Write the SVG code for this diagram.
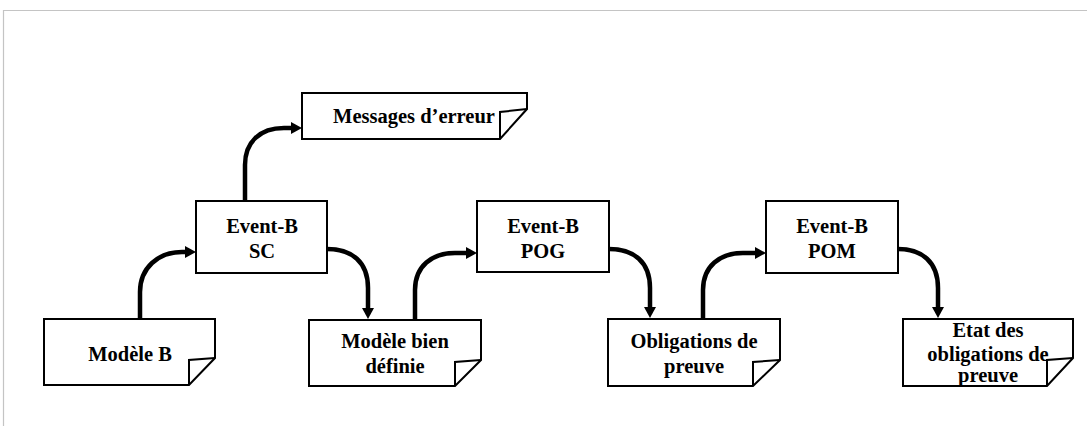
<svg xmlns="http://www.w3.org/2000/svg" width="1087" height="426" viewBox="0 0 1087 426">
<defs>
<style>
.frame{fill:none;stroke:#c4c4c4;stroke-width:1.2}
.box{fill:#fff;stroke:#000;stroke-width:2}
.fold{fill:none;stroke:#000;stroke-width:2;stroke-linejoin:miter}
.conn{fill:none;stroke:#000;stroke-width:4.5}
.lbl{font-family:"Liberation Serif","Times New Roman",serif;font-weight:bold;font-size:20.5px;text-anchor:middle;fill:#000}
</style>
<marker id="arr" markerUnits="userSpaceOnUse" markerWidth="13" markerHeight="13" refX="3" refY="6" orient="auto">
<path d="M0,0 L11,6 L0,12 Z" fill="#000"/>
</marker>
</defs>
<rect width="1087" height="426" fill="#fff"/>
<path class="frame" d="M3.5,426 V10.5 H1087"/>

<g id="connectors">
<path class="conn" marker-end="url(#arr)" d="M140,319 V292 C140,268 158,252 182,252 H188"/>
<path class="conn" marker-end="url(#arr)" d="M327,249 C352,249 368,262 368,288 V311"/>
<path class="conn" marker-end="url(#arr)" d="M245,201 V165 C245,142 260,128 284,128 H294"/>
<path class="conn" marker-end="url(#arr)" d="M415,320 V290 C415,266 432,253 455,253 H469"/>
<path class="conn" marker-end="url(#arr)" d="M609,249 C634,249 650,262 650,288 V310"/>
<path class="conn" marker-end="url(#arr)" d="M703,319 V290 C703,266 720,253 743,253 H758"/>
<path class="conn" marker-end="url(#arr)" d="M898,249 C922,249 938,262 938,288 V310"/>
</g>

<g id="messages">
<path class="box" d="M302,93 H527 V109 L500,139 H302 Z"/>
<path class="fold" d="M500,139 V112 L527,109"/>
<text class="lbl" x="414" y="123">Messages d’erreur</text>
</g>

<g id="sc">
<rect class="box" x="196" y="201" width="131" height="72"/>
<text class="lbl" x="262" y="233">Event-B</text>
<text class="lbl" x="262" y="258">SC</text>
</g>

<g id="pog">
<rect class="box" x="477" y="201" width="132" height="71"/>
<text class="lbl" x="543" y="233">Event-B</text>
<text class="lbl" x="543" y="258">POG</text>
</g>

<g id="pom">
<rect class="box" x="766" y="201" width="132" height="72"/>
<text class="lbl" x="832" y="233">Event-B</text>
<text class="lbl" x="832" y="258">POM</text>
</g>

<g id="modeleB">
<path class="box" d="M44,319 H215 V358 L189,385 H44 Z"/>
<path class="fold" d="M189,385 V360 L215,358"/>
<text class="lbl" x="130" y="361">Modèle B</text>
</g>

<g id="modeleBien">
<path class="box" d="M309,320 H481 V360 L455,386 H309 Z"/>
<path class="fold" d="M455,386 V362 L481,360"/>
<text class="lbl" x="395" y="348">Modèle bien</text>
<text class="lbl" x="395" y="373">définie</text>
</g>

<g id="obligations">
<path class="box" d="M608,319 H780 V360 L753,386 H608 Z"/>
<path class="fold" d="M753,386 V362 L780,360"/>
<text class="lbl" x="694" y="348">Obligations de</text>
<text class="lbl" x="694" y="373">preuve</text>
</g>

<g id="etat">
<path class="box" d="M903,319 H1073 V358 L1047,386 H903 Z"/>
<path class="fold" d="M1047,386 V360 L1073,358"/>
<text class="lbl" x="988" y="337">Etat des</text>
<text class="lbl" x="988" y="361">obligations de</text>
<text class="lbl" x="988" y="382">preuve</text>
</g>
</svg>
